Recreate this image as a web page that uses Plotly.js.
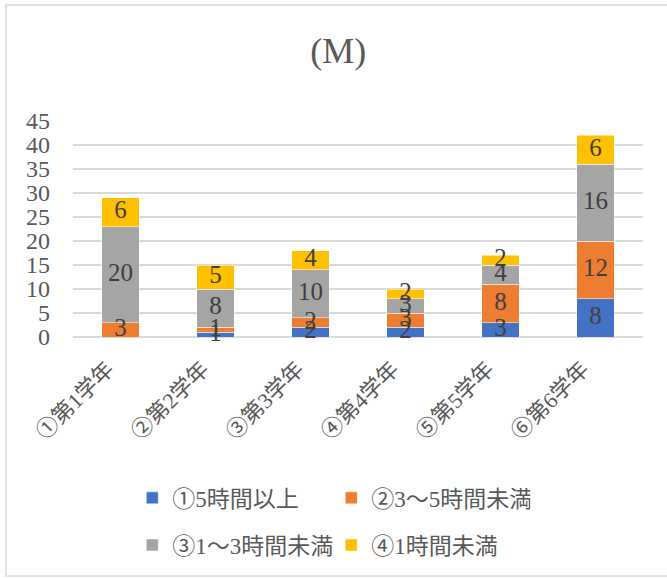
<!DOCTYPE html>
<html>
<head>
<meta charset="utf-8">
<script src="https://cdn.plot.ly/plotly-3.0.1.min.js"></script>
<style>
html,body{margin:0;padding:0;background:#fff;}
#wrap{position:relative;width:667px;height:578px;overflow:hidden;}
#frame{position:absolute;left:5px;top:4px;width:680px;height:573px;border:2px solid #e2e2e2;box-sizing:border-box;pointer-events:none;}
#chart{position:absolute;left:0;top:0;width:667px;height:578px;}
</style>
</head>
<body>
<div id="wrap"><div id="chart"></div><div id="frame"></div></div>
<script>
const categories = ['①第1学年','②第2学年','③第3学年','④第4学年','⑤第5学年','⑥第6学年'];
const seriesNames = ['①5時間以上','②3～5時間未満','③1～3時間未満','④1時間未満'];
const s1 = [null, 1, 2, 2, 3, 8];
const s2 = [3, 1, 2, 3, 8, 12];
const s3 = [20, 8, 10, 3, 4, 16];
const s4 = [6, 5, 4, 2, 2, 6];
const colors = ['#4472C4','#ED7D31','#A5A5A5','#FFC000'];
const yTicks = [0,5,10,15,20,25,30,35,40,45];

const FONT = '"Liberation Serif", "DejaVu Serif", "Noto Sans CJK JP", serif';
const allSeries = [s1, s2, s3, s4];
const legendIds = ['legend','legend','legend2','legend2'];

const barTraces = allSeries.map((vals, i) => ({
  type: 'bar',
  name: seriesNames[i],
  x: categories,
  y: vals,
  marker: {color: colors[i], line: {color: '#ffffff', width: 0.5}},
  legend: legendIds[i],
  hoverinfo: 'skip'
}));

// data labels drawn on top of all bars, at the middle of each stacked segment
const base = categories.map(() => 0);
const labelTraces = allSeries.map((vals, i) => {
  const ys = vals.map((v, j) => {
    const b = base[j];
    const val = v == null ? 0 : v;
    base[j] = b + val;
    return v == null ? null : b + val / 2;
  });
  return {
    type: 'scatter', mode: 'text', x: categories, y: ys,
    text: vals.map(v => v == null ? '' : String(v)),
    textposition: 'middle center',
    textfont: {family: FONT, size: 25, color: '#404040'},
    showlegend: false, cliponaxis: false, hoverinfo: 'skip'
  };
});

const layout = {
  width: 667, height: 578,
  margin: {l: 73, r: 24, t: 121, b: 241},
  paper_bgcolor: '#ffffff', plot_bgcolor: '#ffffff',
  barmode: 'stack',
  bargap: 0.61,
  font: {family: FONT, color: '#595959', size: 20},
  title: {text: '(M)', x: 0.507, xref: 'container', y: 0.912, yref: 'container', yanchor: 'middle', xanchor: 'center',
          font: {family: FONT, size: 36, color: '#595959'}},
  xaxis: {type: 'category', tickangle: -45, showgrid: false, showline: false, zeroline: false,
          tickfont: {family: FONT, size: 22, color: '#595959'}, ticks: '', ticklabelstandoff: 14, ticklabelshift: -13},
  yaxis: {range: [0, 45], tickvals: yTicks, ticktext: yTicks.map(String), showgrid: true, gridcolor: '#d9d9d9', gridwidth: 1.5,
          zeroline: true, zerolinecolor: '#d9d9d9', zerolinewidth: 1.5, showline: false,
          tickfont: {family: FONT, size: 24, color: '#595959'}, ticklabelstandoff: 22},
  showlegend: true,
  legend: {orientation: 'h', x: 0.104, xanchor: 'left', y: -0.745, yanchor: 'middle', entrywidth: 154, itemwidth: 30,
           font: {family: FONT, size: 23, color: '#595959'}, bgcolor: 'rgba(0,0,0,0)', traceorder: 'normal'},
  legend2: {orientation: 'h', x: 0.104, xanchor: 'left', y: -0.963, yanchor: 'middle', entrywidth: 154, itemwidth: 30,
           font: {family: FONT, size: 23, color: '#595959'}, bgcolor: 'rgba(0,0,0,0)', traceorder: 'normal'}
};

Plotly.newPlot('chart', barTraces.concat(labelTraces), layout, {displayModeBar: false, staticPlot: true});
</script>
</body>
</html>
